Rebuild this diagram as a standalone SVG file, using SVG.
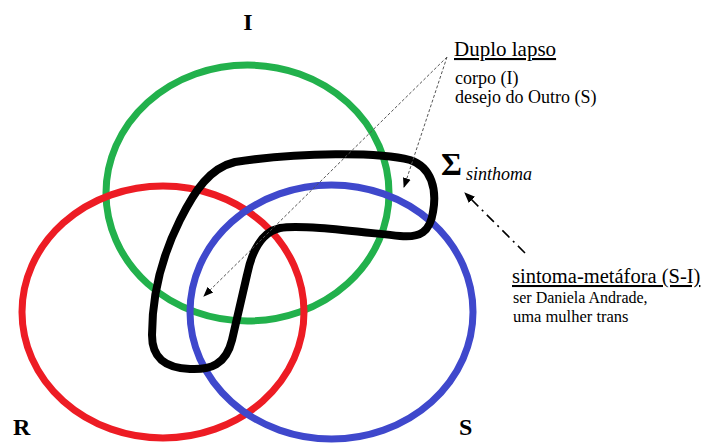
<svg xmlns="http://www.w3.org/2000/svg" width="701" height="443" viewBox="0 0 701 443">
<defs>
<style>
.ring{fill:none;stroke-width:7}
.t{font-family:"Liberation Serif","Times New Roman",serif;fill:#000}
.lbl{font-size:24px;font-weight:bold}
.title{text-decoration:underline}
.dot{fill:none;stroke:#555;stroke-width:1;stroke-dasharray:3 2}
.dashdot{fill:none;stroke:#000;stroke-width:1.6;stroke-dasharray:10 5 2 5}
</style>
<marker id="ah" viewBox="0 0 10 10" refX="9" refY="5" markerWidth="10" markerHeight="10" markerUnits="userSpaceOnUse" orient="auto">
<path d="M0,1 L10,5 L0,9 Z" fill="#000"/>
</marker>
<marker id="ah2" viewBox="0 0 10 10" refX="9" refY="5" markerWidth="11" markerHeight="11" markerUnits="userSpaceOnUse" orient="auto">
<path d="M0,1 L10,5 L0,9 Z" fill="#000"/>
</marker>
</defs>
<rect width="701" height="443" fill="#fff"/>
<g id="ring-I"><ellipse class="ring" cx="247.5" cy="193" rx="141.5" ry="128" stroke="#22b14c"/></g>
<g id="ring-R"><ellipse class="ring" cx="163" cy="312" rx="141" ry="126" stroke="#ed1c24"/></g>
<g id="ring-S"><ellipse class="ring" cx="331.5" cy="312" rx="141.5" ry="127" stroke="#3f48cc"/></g>
<g id="sinthoma">
<path d="M235,162 C300,152 380,152 410,160 C432,167 437,190 433,212 C430,232 420,238 400,236 C360,232 300,224 280,228 C262,232 252,250 247,275 L232,340 C226,365 210,370 190,369 C165,368 152,358 152,335 C152,300 160,260 180,220 C195,190 210,168 235,162 Z" fill="none" stroke="#000" stroke-width="8" stroke-linejoin="round"/>
</g>
<g id="labels">
<text class="t lbl" x="248" y="30" text-anchor="middle">I</text>
<text class="t lbl" x="13" y="435">R</text>
<text class="t lbl" x="459" y="435">S</text>
</g>
<g id="sigma">
<text class="t" x="441" y="175" font-size="32" font-weight="bold">Σ</text>
<text class="t" x="466" y="180" font-size="18" font-style="italic">sinthoma</text>
</g>
<g id="duplo-lapso">
<text class="t title" x="454" y="56" font-size="21">Duplo lapso</text>
<text class="t" x="455" y="84" font-size="18">corpo (I)</text>
<text class="t" x="455" y="103" font-size="18">desejo do Outro (S)</text>
</g>
<g id="sintoma-metafora">
<text class="t title" x="512" y="283" font-size="20.5">sintoma-metáfora (S-I)</text>
<text class="t" x="513" y="303" font-size="16">ser Daniela Andrade,</text>
<text class="t" x="513" y="322" font-size="16.5">uma mulher trans</text>
</g>
<g id="connectors">
<line class="dot" x1="447" y1="57" x2="404" y2="187" marker-end="url(#ah)"/>
<line class="dot" x1="447" y1="57" x2="204" y2="296" marker-end="url(#ah)"/>
<line class="dashdot" x1="525" y1="253" x2="465" y2="193" marker-end="url(#ah2)"/>
</g>
</svg>
